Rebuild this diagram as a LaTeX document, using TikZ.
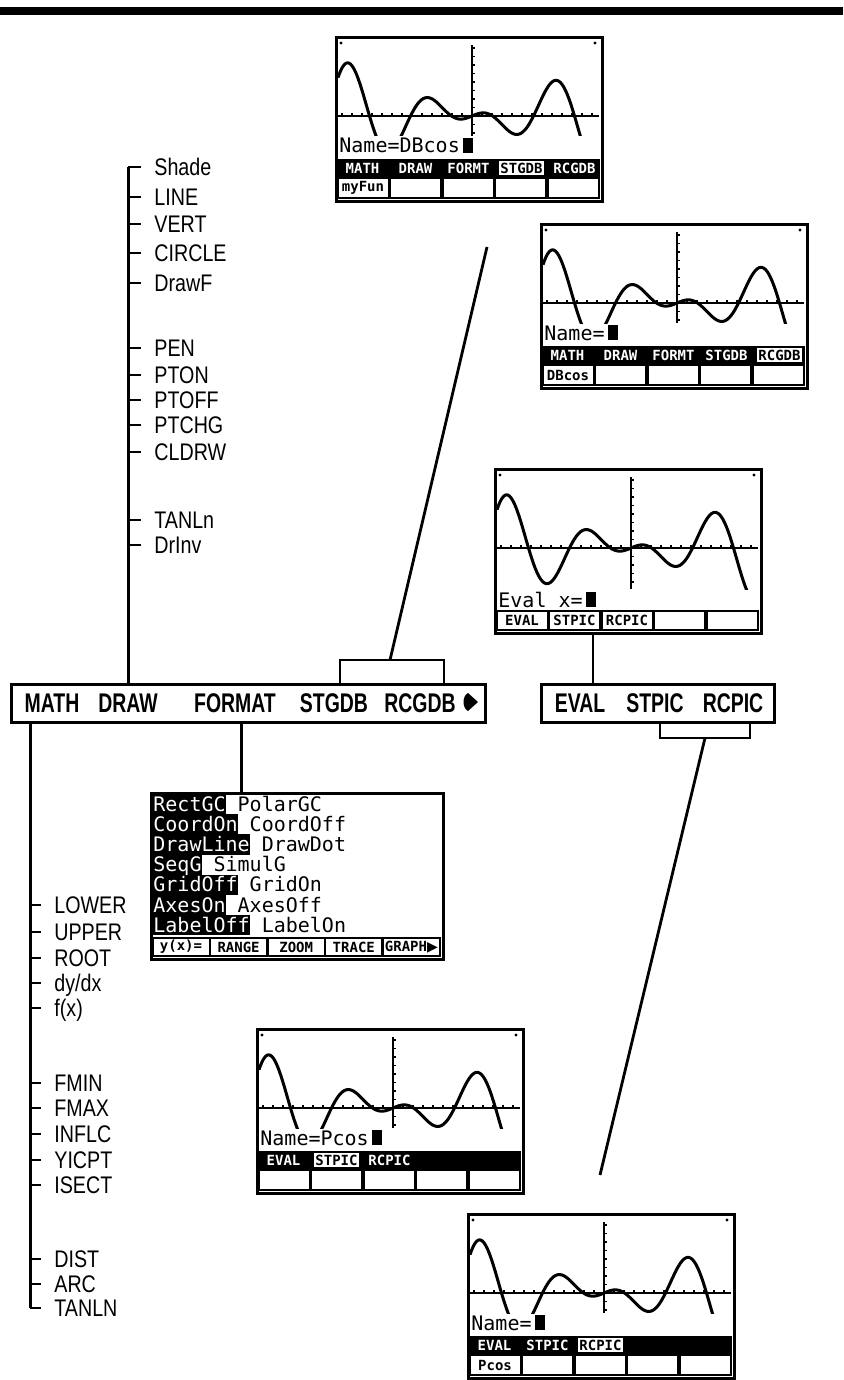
\documentclass[tikz,border=0pt]{standalone}
\usepackage{fontspec}
\newfontfamily\lblfont[FakeStretch=0.82]{Liberation Sans}
\newfontfamily\menufont[FakeStretch=0.72]{Liberation Sans}
\newfontfamily\lcdfont{DejaVu Sans Mono}
\newfontfamily\keyfont{DejaVu Sans Mono}
\newfontfamily\symfont{DejaVu Sans}
\newcommand\graphcontent[1]{%
  \begin{scope}
    \clip (2,2) rectangle (264,#1);
    \draw[axis] (2,80) -- (264,80);
    \draw[axis] (137,9) -- (137,#1);
    \foreach \i in {-13,...,12} \draw[line width=0.8pt] ({137+10*\i},77) -- ({137+10*\i},80);
    \foreach \j in {-8,...,5} \draw[line width=0.8pt] (137,{80+8.5*\j}) -- (140,{80+8.5*\j});
    \draw[curve] plot[domain=-134:117,samples=160] ({137+\x},{80-0.43*\x*cos(4.3902*\x)});
  \end{scope}
  \fill (6,7) circle (0.8pt);
  \fill (260,7) circle (0.8pt);
}
\newcommand\menuscreen[7]{%
  \node[frame, minimum width=133pt, minimum height=82pt] (#1) at (#2,#3) {};
  \begin{scope}[shift={(#2,#3)}]
    \graphcontent{100}
    \node[lcd] (#1-t) at (4,117) {#4};
    \fill ([xshift=1.5pt]#1-t.base east) rectangle ++(10,-15);
    \fill (1,123) rectangle (265,141);
    \foreach \lab [count=\i from 0] in {#5} {%
      \ifnum\i=#6\relax
        \fill[white] ({5+53*\i},125) rectangle ({50+53*\i},139);
        \node[key, text=black] at ({27.5+53*\i},132) {\lab};
      \else
        \node[key, text=white] at ({27.5+53*\i},132) {\lab};
      \fi}
    \fill (1,141) rectangle (265,163);
    \foreach \i in {0,...,4} \fill[white] ({3.5+52.5*\i},143) rectangle ({52.5+52.5*\i},161);
    \node[key] at (28,152) {#7};
  \end{scope}}
\begin{document}
\begin{tikzpicture}[x=0.5pt,y=-0.5pt,
  lbl/.style={font=\lblfont\fontsize{12}{14}\selectfont, anchor=base west, inner sep=0pt},
  mword/.style={font=\menufont\bfseries\fontsize{13.5}{16}\selectfont, inner sep=0pt, anchor=base},
  spine/.style={line width=1.5pt},
  tk/.style={line width=1.4pt},
  mbox/.style={draw, line width=1.5pt, rectangle, inner sep=0pt, anchor=north west},
  frame/.style={draw, line width=1.3pt, rectangle, inner sep=0pt, anchor=north west},
  lcd/.style={font=\lcdfont\fontsize{10}{12}\selectfont, inner sep=0pt, anchor=base west},
  key/.style={font=\keyfont\bfseries\fontsize{7}{8}\selectfont, inner sep=0pt},
  curve/.style={line width=1.5pt, line join=round},
  axis/.style={line width=1.1pt},
  conn/.style={line width=1.4pt}]
\useasboundingbox (0,0) rectangle (843,1380);
% top rule
\fill (0,7) rectangle (843,15);

% graph screens
\menuscreen{s1}{335}{36}{Name=DBcos}{MATH,DRAW,FORMT,STGDB,RCGDB}{3}{myFun}
\menuscreen{s2}{540}{223}{Name=}{MATH,DRAW,FORMT,STGDB,RCGDB}{4}{DBcos}
\menuscreen{s4}{256}{1028}{Name=Pcos}{EVAL,STPIC,RCPIC}{1}{}
\menuscreen{s5}{467}{1213}{Name=}{EVAL,STPIC,RCPIC}{2}{Pcos}

% eval screen
\node[frame, minimum width=133pt, minimum height=82pt] (ev) at (494,468) {};
\begin{scope}[shift={(494,468)}]
  \graphcontent{121}
  \node[lcd] (ev-t) at (4,139) {Eval x=};
  \fill ([xshift=1.5pt]ev-t.base east) rectangle ++(10,-15);
  \fill (1,142) rectangle (265,163);
  \foreach \lab [count=\i from 0] in {EVAL,STPIC,RCPIC,{},{}} {%
    \fill[white] ({3.5+52.5*\i},144) rectangle ({52.5+52.5*\i},161);
    \node[key] at ({28+52.5*\i},152.5) {\lab};}
\end{scope}

% format screen
\node[frame, minimum width=146pt, minimum height=83pt] (fm) at (150,792) {};
\begin{scope}[shift={(150,792)}]
  \foreach \a/\b/\w [count=\i from 0] in {RectGC/PolarGC/6, CoordOn/CoordOff/7, DrawLine/DrawDot/8, SeqG/SimulG/4, GridOff/GridOn/7, AxesOn/AxesOff/6, LabelOff/LabelOn/8} {%
    \fill (1,{2+20.2*\i}) rectangle ({4+12.04*\w},{22.2+20.2*\i});
    \node[lcd, text=white] at (3,{19+20.2*\i}) {\a};
    \node[lcd] at ({3+12.04*(\w+1)},{19+20.2*\i}) {\b};}
  \fill (1,145) rectangle (291,165);
  \foreach \lab [count=\i from 0] in {y(x)=,RANGE,ZOOM,TRACE,GRAPH{\symfont\char"25B6}} {%
    \fill[white] ({3.5+57.6*\i},147) rectangle ({58.5+57.6*\i},163);
    \node[key] at ({31+57.6*\i},155) {\lab};}
\end{scope}

% main menu box
\node[mbox, minimum width=237pt, minimum height=19pt] (main) at (10,683) {};
\node[mword] (mMATH) at (52,712) {MATH};
\node[mword] (mDRAW) at (128,712) {DRAW};
\node[mword] (mFORMAT) at (235,712) {FORMAT};
\node[mword] (mSTGDB) at (334,712) {STGDB};
\node[mword] (mRCGDB) at (420,712) {RCGDB};
\fill (468,693) -- (478,702) -- (468,711) .. controls (462,708) and (462,696) .. (468,693) -- cycle;

% EVAL box
\node[mbox, minimum width=116.5pt, minimum height=19pt] (evbox) at (540,683) {};
\node[mword] (eEVAL) at (580,712) {EVAL};
\node[mword] (eSTPIC) at (655,712) {STPIC};
\node[mword] (eRCPIC) at (733,712) {RCPIC};

% connectors
\coordinate (c1) at (487,247);
\coordinate (b1) at (390,660);
\draw[conn] (main.north -| 340,0) -- (340,660) -- (444,660) -- (main.north -| 444,0);
\draw[conn] (c1) -- (b1);
\coordinate (e1) at (593,0);
\draw[conn] (ev.south -| e1) -- (evbox.north -| e1);
\draw[conn] (evbox.south -| 660,0) -- (660,738) -- (750,738) -- (evbox.south -| 750,0);
\coordinate (b2) at (705,738);
\coordinate (c2) at (600,1175);
\draw[conn] (b2) -- (c2);
\coordinate (f1) at (241,0);
\draw[spine] (main.south -| f1) -- (fm.north -| f1);

% DRAW submenu
\draw[spine] (main.north -| 128,0) -- (128,167);
\foreach \t/\y [count=\i] in {Shade/167, LINE/197, VERT/224, CIRCLE/253, DrawF/283, PEN/348, PTON/375, PTOFF/400, PTCHG/425, CLDRW/452, TANLn/520, DrInv/545} {%
  \draw[tk] (128,\y) -- (141,\y);
  \node[lbl] (d\i) at (154,\y+8.5) {\t};}

% MATH submenu
\draw[spine] (main.south -| 30,0) -- (30,1308);
\foreach \t/\y [count=\i] in {LOWER/905, UPPER/932, ROOT/958, dy\slash dx/983, f(x)/1008, FMIN/1083, FMAX/1108, INFLC/1134, YICPT/1160, ISECT/1185, DIST/1259, ARC/1284, TANLN/1308} {%
  \draw[tk] (30,\y) -- (41,\y);
  \node[lbl] (m\i) at (54,\y+8.5) {\t};}
\end{tikzpicture}
\end{document}
